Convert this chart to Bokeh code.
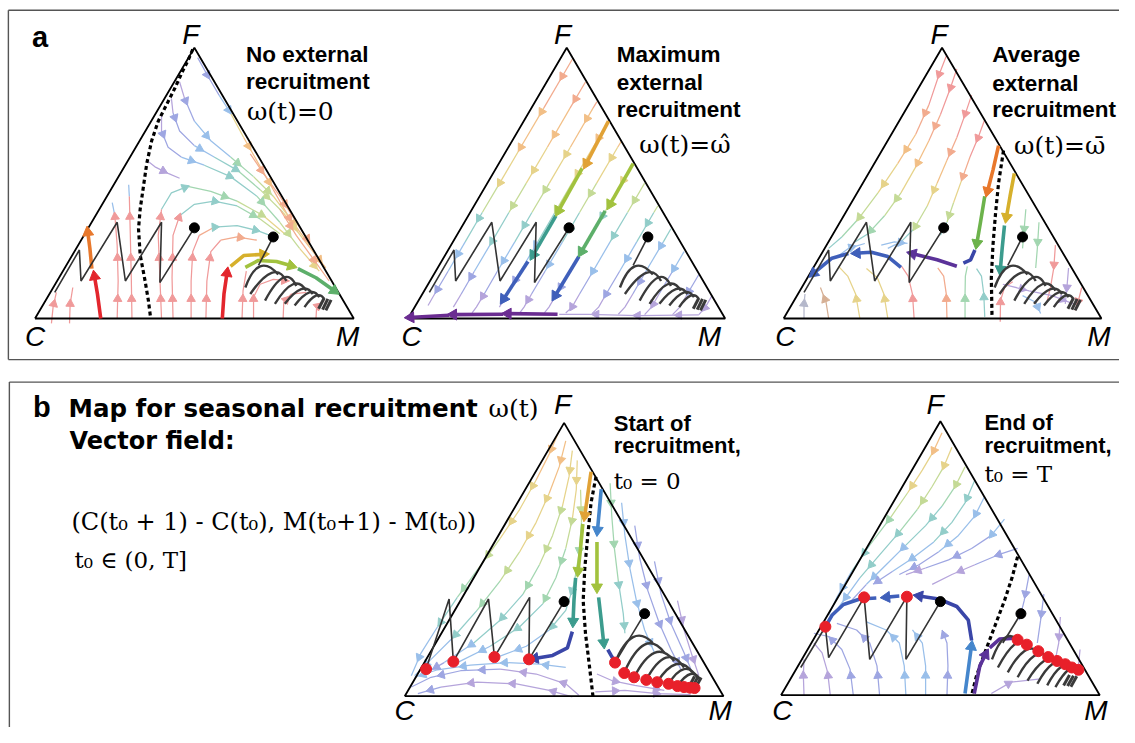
import math
from bokeh.plotting import figure
from bokeh.models import Range1d, Label, ColumnDataSource
from bokeh.embed import file_html
from bokeh.resources import INLINE

W, H = 1135, 743

# ---------------------------------------------------------------------------
# Reading frames: every triangle's values were read in 1/3-pixel units
# relative to the origin of its frame.
ORIG = {"T1": (0, 0), "T2": (380, 0), "T3": (760, 0), "T4": (400, 380), "T5": (765, 380)}

# triangle vertices C, M, F
VERTS = {
    "T1": [(105, 975), (1075, 975), (590, 145)],
    "T2": [(100, 975), (1065, 975), (583, 145)],
    "T3": [(103, 975), (1070, 975), (585, 145)],
    "T4": [(30, 993), (1000, 993), (515, 155)],
    "T5": [(80, 990), (1050, 990), (565, 150)],
}

# separatrices (dashed)
SEPARATRIX = {
    "T1": [(585, 150), (570, 185), (555, 215), (530, 270), (505, 320), (480, 370), (460, 430), (445, 500),
           (435, 570), (425, 640), (420, 700), (425, 780), (440, 860), (450, 920), (457, 975)],
    "T3": [(772, 460), (757, 560), (748, 650), (740, 750), (735, 850), (737, 965)],
    "T4": [(612, 320), (597, 400), (587, 500), (578, 600), (573, 700), (580, 800), (592, 900), (603, 995)],
    "T5": [(800, 565), (783, 630), (760, 700), (730, 780), (700, 860), (675, 930), (660, 990)],
}

THIN = {
    "r": "#f09a9a", "s": "#f2ab8e", "o": "#f2bf86", "y": "#e6d38a", "g": "#c4da96",
    "G": "#a2d6b0", "t": "#92cdc9", "b": "#99bfea", "B": "#9ea6e2", "p": "#b5a4db",
    "k": "#b5b8cb", "n": "#d6b095",
}
THICK = {
    "R": "#e3262d", "O": "#e8782c", "Q": "#e1a236", "Y": "#d6b02c", "L": "#a2c23e",
    "E": "#5daf6a", "H": "#6db34c", "T": "#3c9c8e", "U": "#3f5fba", "V": "#5b3299",
    "D": "#3a46a8", "A": "#4586cc", "P": "#6a2c91",
}

# ----------------------------- streamlines ---------------------------------
T1_STREAMS = [
    ("rr", [(155, 990), (160, 940), (170, 895)]),
    ("rr", [(210, 990), (212, 930), (220, 880)]),
    ("rrrb", [(355, 975), (358, 860), (355, 750), (348, 660), (340, 620)]),
    ("rrrb", [(400, 975), (398, 850), (395, 720), (392, 600), (390, 565)]),
    ("rrrttGGgy", [(490, 975), (485, 850), (480, 720), (490, 640), (520, 590), (570, 570), (640, 585),
                   (720, 615), (800, 660), (870, 720)]),
    ("rrrtttGg", [(525, 975), (522, 850), (525, 720), (545, 660), (590, 625), (650, 615), (720, 630),
                  (790, 670), (850, 715)]),
    ("rrrsttt", [(580, 975), (580, 860), (585, 770), (605, 720), (650, 695), (720, 690), (780, 705), (820, 720)]),
    ("rrrss", [(625, 975), (628, 860), (640, 770), (670, 735), (720, 725), (780, 735)]),
    ("rr", [(735, 975), (738, 890), (748, 830)]),
    ("rrrr", [(770, 975), (770, 910), (790, 870), (830, 855), (880, 860)]),
    ("rrr", [(860, 975), (862, 925), (885, 900), (930, 895)]),
    ("rr", [(960, 975), (962, 940), (985, 920)]),
    ("BBbyooss", [(600, 175), (630, 230), (665, 290), (700, 345), (740, 420), (785, 500), (830, 580),
                  (875, 660), (905, 710)]),
    ("pBbbGgyo", [(545, 250), (560, 300), (590, 370), (640, 430), (700, 480), (770, 540), (830, 600),
                  (890, 680), (940, 750)]),
    ("pBBbtGgyo", [(520, 300), (525, 345), (545, 400), (590, 445), (650, 480), (720, 520), (790, 580),
                   (860, 650), (920, 730), (990, 820)]),
    ("pBBbttGgy", [(490, 350), (490, 400), (510, 450), (550, 480), (620, 505), (700, 540), (780, 600),
                   (850, 680), (910, 760), (970, 830)]),
    ("ppp", [(445, 490), (470, 510), (510, 530), (545, 545)]),
    ("ssss", [(760, 470), (800, 530), (850, 600), (900, 680), (940, 740)]),
    ("sss", [(850, 640), (900, 720), (950, 790), (1000, 860)]),
]
T1_THICK = [
    ("R", [(305, 975), (295, 900), (285, 840)], True),
    ("O", [(278, 822), (272, 760), (265, 705)], True),
    ("R", [(675, 975), (680, 900), (690, 830)], True),
    ("Y", [(700, 815), (740, 782), (805, 778)], True),
    ("L", [(745, 818), (785, 797), (840, 800), (890, 815)], True),
    ("E", [(905, 822), (960, 850), (1020, 893)], True),
]

T2_STREAMS = [
    ("soygtbBp", [(600, 180), (513, 330), (443, 450), (379, 560), (326, 650), (274, 740), (222, 830), (181, 900), (161, 935)]),
    ("soygtbBp", [(640, 250), (593, 330), (524, 450), (460, 560), (407, 650), (355, 740), (302, 830), (262, 900), (238, 940)]),
    ("soygtbBpp", [(675, 310), (663, 330), (594, 450), (530, 560), (477, 650), (425, 740), (372, 830), (332, 900), (308, 940), (295, 958)]),
    ("oygtbBp", [(710, 370), (663, 450), (599, 560), (547, 650), (495, 740), (442, 830), (402, 900), (378, 940)]),
    ("oygtbBpp", [(750, 430), (738, 450), (674, 560), (622, 650), (570, 740), (517, 830), (476, 900), (453, 940), (440, 958)]),
    ("ygtbBpp", [(785, 500), (750, 560), (698, 650), (645, 740), (593, 830), (552, 900), (529, 940), (515, 958)]),
    ("gtbBpp", [(820, 560), (768, 650), (715, 740), (663, 830), (622, 900), (599, 940), (580, 958)]),
    ("gtbBpp", [(860, 630), (848, 650), (796, 740), (744, 830), (703, 900), (680, 940), (660, 960)]),
    ("tbBpp", [(900, 700), (877, 740), (824, 830), (784, 900), (760, 940), (740, 962)]),
    ("bBpp", [(940, 770), (905, 830), (864, 900), (841, 940), (820, 963)]),
    ("Bpp", [(985, 840), (950, 900), (927, 940), (905, 963)]),
    ("pp", [(1025, 905), (1005, 940), (985, 963)]),
    ("ppp", [(985, 964), (800, 966), (650, 962), (560, 962)]),
]
T2_THICK = [
    ("Q", [(710, 370), (640, 505)], True),
    ("L", [(630, 515), (555, 650)], True),
    ("T", [(550, 660), (478, 785)], True),
    ("U", [(465, 800), (388, 920)], True),
    ("L", [(785, 500), (712, 630)], True),
    ("E", [(700, 645), (625, 775)], True),
    ("U", [(620, 785), (545, 910)], True),
    ("P", [(555, 962), (398, 960)], True),
    ("P", [(390, 962), (232, 963)], True),
    ("P", [(225, 965), (102, 972)], True),
]

T3_STREAMS = [
    ("rrsoygGt", [(598, 170), (575, 230), (545, 320), (505, 410), (450, 500), (390, 590), (330, 670), (280, 725), (240, 760)]),
    ("rrsoygGt", [(630, 210), (610, 270), (580, 350), (545, 430), (505, 510), (460, 590), (410, 660), (360, 715), (320, 740)]),
    ("rrsoygtb", [(675, 290), (655, 350), (630, 420), (600, 490), (570, 560), (540, 630), (500, 700), (460, 740), (420, 760)]),
    ("rrsygt", [(715, 365), (695, 420), (670, 480), (645, 550), (620, 620), (600, 680), (580, 720)]),
    ("bb", [(260, 790), (300, 760), (350, 745)]),
    ("bb", [(400, 750), (440, 740), (480, 745)]),
    ("kk", [(165, 975), (165, 930), (168, 900)]),
    ("nn", [(240, 975), (232, 925), (215, 880)]),
    ("yyy", [(335, 975), (322, 900), (298, 845), (270, 815)]),
    ("yyy", [(420, 975), (408, 900), (388, 850), (355, 822)]),
    ("rrr", [(500, 975), (495, 900), (482, 845), (462, 815)]),
    ("sss", [(600, 975), (598, 900), (590, 845), (572, 820)]),
    ("GGG", [(655, 975), (655, 900), (656, 845), (662, 815)]),
    ("ttt", [(715, 970), (712, 900), (705, 845), (690, 822)]),
    ("rrr", [(762, 985), (763, 920), (775, 880), (800, 862)]),
    ("GG", [(840, 640), (835, 700), (830, 760)]),
    ("GG", [(880, 680), (875, 760), (870, 820)]),
    ("rrr", [(930, 750), (925, 820), (915, 880), (905, 920)]),
    ("pp", [(970, 820), (965, 880), (960, 930)]),
    ("ppp", [(770, 870), (850, 890), (920, 905), (985, 930)]),
    ("rr", [(1010, 880), (1000, 920), (990, 950)]),
    ("bb", [(830, 905), (870, 925), (885, 960)]),
]
T3_THICK = [
    ("O", [(757, 445), (740, 520), (722, 590)], True),
    ("H", [(715, 600), (702, 680), (690, 750)], True),
    ("Y", [(805, 530), (792, 600), (780, 670)], True),
    ("T", [(775, 690), (768, 760), (762, 830)], True),
    ("D", [(685, 765), (672, 795), (650, 805)], False),
    ("V", [(630, 815), (570, 795), (490, 775)], True),
    ("U", [(460, 818), (420, 785), (370, 772), (320, 775)], True),
    ("U", [(300, 776), (250, 790), (190, 840)], True),
]

T4_STREAMS = [
    ("ooyygGtbb", [(500, 180), (470, 250), (430, 330), (380, 420), (320, 510), (255, 600), (190, 690), (130, 780), (80, 860), (50, 930)]),
    ("ooyygGtbb", [(520, 210), (500, 290), (470, 370), (430, 460), (380, 550), (320, 640), (250, 730), (180, 810), (110, 880), (60, 930)]),
    ("yyggGttbB", [(540, 240), (530, 320), (510, 410), (480, 500), (440, 590), (390, 680), (320, 760), (240, 830), (150, 890), (80, 930)]),
    ("yygGGttb", [(555, 270), (552, 360), (540, 450), (520, 540), (490, 630), (450, 710), (380, 780), (290, 840), (190, 890)]),
    ("gGGttbb", [(565, 360), (568, 460), (560, 560), (545, 650), (520, 730), (470, 790), (400, 840), (320, 870)]),
    ("pppBBB", [(560, 990), (520, 955), (430, 925), (320, 910), (200, 915), (110, 935), (50, 965)]),
    ("ppppB", [(540, 995), (470, 975), (370, 955), (250, 950), (140, 965), (70, 985)]),
    ("bbbbb", [(520, 905), (440, 895), (340, 890), (230, 898), (130, 912), (60, 935)]),
    ("GGGtt", [(655, 340), (660, 440), (668, 540), (680, 640), (695, 740), (700, 800)]),
    ("bbbbb", [(690, 400), (700, 500), (715, 600), (735, 700), (760, 790), (790, 860)]),
    ("BBBBB", [(730, 470), (745, 570), (770, 670), (805, 770), (840, 850), (870, 910)]),
    ("BBBB", [(790, 580), (810, 680), (840, 770), (880, 860), (905, 920)]),
    ("ppp", [(860, 700), (880, 790), (905, 870), (925, 930)]),
    ("ppp", [(615, 925), (660, 945), (730, 960), (820, 975)]),
    ("ppp", [(610, 980), (700, 975), (800, 985), (900, 988)]),
]
T4_THICK = [
    ("Q", [(597, 305), (587, 375), (577, 445)], True),
    ("L", [(572, 465), (565, 540), (557, 615)], True),
    ("T", [(550, 630), (545, 700), (542, 770)], True),
    ("D", [(540, 795), (525, 845), (480, 868), (420, 878)], True),
    ("A", [(628, 358), (622, 425), (616, 490)], True),
    ("L", [(615, 520), (615, 590), (615, 665)], True),
    ("T", [(620, 690), (628, 760), (636, 835)], True),
    ("D", [(648, 850), (658, 868), (668, 885)], False),
]

T5_STREAMS = [
    ("oyygGtbb", [(570, 185), (545, 240), (510, 300), (465, 370), (410, 450), (350, 530), (295, 610), (250, 690), (225, 745)]),
    ("yggGttbb", [(600, 230), (575, 290), (540, 350), (495, 420), (440, 490), (380, 560), (320, 630), (270, 700), (235, 750)]),
    ("gGttbbB", [(640, 290), (610, 350), (570, 410), (520, 470), (460, 530), (400, 590), (340, 650), (290, 705)]),
    ("tttbbB", [(670, 330), (640, 400), (600, 460), (545, 520), (480, 570), (420, 610), (360, 650)]),
    ("bbbBB", [(700, 380), (670, 440), (620, 500), (560, 550), (500, 590), (440, 620)]),
    ("bBBBp", [(760, 450), (720, 500), (660, 540), (590, 575), (520, 600), (460, 620)]),
    ("BBpp", [(800, 540), (740, 560), (670, 590), (600, 620), (540, 650)]),
    ("pp", [(150, 990), (148, 930), (150, 880)]),
    ("ppp", [(230, 990), (222, 920), (205, 860), (180, 830)]),
    ("BBBB", [(300, 990), (290, 910), (265, 850), (225, 810), (180, 800)]),
    ("BBBB", [(380, 990), (372, 900), (350, 830), (310, 790), (250, 770)]),
    ("bbbb", [(460, 990), (455, 900), (440, 830), (400, 790), (340, 765)]),
    ("bbb", [(520, 990), (520, 900), (510, 830), (480, 790)]),
    ("BBB", [(585, 990), (588, 900), (585, 830), (570, 790)]),
    ("BB", [(835, 620), (820, 700), (805, 760)]),
    ("BB", [(880, 680), (870, 760), (860, 830)]),
    ("pp", [(930, 750), (925, 830), (915, 880)]),
    ("pp", [(990, 850), (985, 900), (975, 940)]),
    ("pp", [(720, 985), (780, 950), (870, 940)]),
]
T5_THICK = [
    ("A", [(640, 985), (650, 910), (660, 835)], True),
    ("D", [(660, 822), (650, 760), (615, 718), (560, 695), (495, 685)], True),
    ("U", [(440, 686), (395, 690)], True),
    ("U", [(370, 692), (320, 695), (270, 712), (235, 745), (218, 775)], False),
    ("V", [(668, 985), (685, 900), (705, 860)], True),
    ("V", [(715, 845), (745, 818), (790, 815)], False),
]

# ----------------------------- trajectories --------------------------------
TRAJ_A_LEFT = [(590, 697), (485, 865), (490, 680), (380, 860), (355, 680), (245, 860), (240, 765), (165, 895)]
TRAJ_A_LINK = [(830, 725), (785, 812)]
TRAJ_A_ARCS = [  # start, peak, end
    ((745, 880), (790, 815), (845, 840)),
    ((760, 900), (825, 835), (870, 860)),
    ((805, 920), (860, 850), (900, 875)),
    ((835, 930), (890, 870), (930, 890)),
    ((865, 930), (915, 885), (950, 900)),
    ((895, 935), (940, 895), (970, 910)),
    ((925, 940), (960, 905), (985, 915)),
]
TRAJ_A_BLOCK = [((968, 945), (985, 912)), ((980, 948), (996, 915)), ((990, 950), (1006, 918))]
DOTS_A = [(590, 697), (830, 725)]

TRAJ_T4_LEFT = [(515, 703), (408, 880), (410, 690), (303, 873), (285, 695), (178, 887), (165, 695), (95, 910)]
TRAJ_T4_LINK = [(760, 740), (670, 890)]
TRAJ_T4_ARCS = [
    ((670, 890), (725, 812), (785, 830)),
    ((698, 920), (760, 835), (820, 860)),
    ((728, 935), (790, 860), (850, 885)),
    ((765, 943), (825, 875), (880, 905)),
    ((798, 950), (855, 895), (905, 920)),
    ((833, 955), (880, 910), (920, 935)),
    ((860, 962), (900, 925), (930, 945)),
]
TRAJ_T4_BLOCK = [((895, 965), (912, 932)), ((905, 966), (922, 934)), ((915, 967), (932, 936))]
DOTS_T4 = [(515, 703), (760, 740)]
RED_T4 = [(95, 910), (178, 887), (303, 873), (408, 880), (670, 890), (698, 922), (728, 935), (765, 943),
          (798, 950), (833, 955), (860, 962), (880, 965), (898, 967), (912, 968)]

TRAJ_T5_LEFT = [(565, 703), (460, 880), (463, 688), (350, 880), (333, 690), (225, 875), (215, 780), (140, 905)]
TRAJ_T5_LINK = [(810, 740), (755, 830)]
TRAJ_T5_ARCS = [
    ((722, 880), (760, 815), (800, 820)),
    ((740, 905), (790, 835), (828, 835)),
    ((770, 920), (820, 855), (863, 855)),
    ((800, 935), (850, 870), (893, 873)),
    ((830, 945), (880, 885), (920, 885)),
    ((860, 955), (905, 895), (945, 895)),
    ((890, 960), (930, 905), (965, 905)),
    ((915, 965), (955, 912), (985, 912)),
]
TRAJ_T5_BLOCK = [((940, 960), (958, 928)), ((952, 962), (970, 930)), ((962, 964), (980, 932))]
DOTS_T5 = [(565, 703), (810, 740)]
RED_T5 = [(215, 780), (333, 690), (463, 688), (800, 820), (828, 835), (863, 855), (893, 873),
          (920, 885), (945, 895), (965, 905), (985, 912)]

# ----------------------------- texts ---------------------------------------
VERTEX_LABELS = [  # text, centre x, baseline y (px)
    ("F", 193, 45), ("C", 35, 353), ("M", 352, 353),
    ("F", 570, 45), ("C", 417, 353), ("M", 719, 353),
    ("F", 952, 45), ("C", 796, 353), ("M", 1114, 353),
    ("F", 570, 423), ("C", 410, 736), ("M", 730, 736),
    ("F", 948, 423), ("C", 793, 736), ("M", 1111, 736),
]
TITLES_A = [  # text, x, baseline
    ("No external", 249, 63), ("recruitment", 249, 91),
    ("Maximum", 625, 63), ("external", 625, 92), ("recruitment", 625, 119),
    ("Average", 1006, 63), ("external", 1006, 93), ("recruitment", 1006, 120),
]
TITLES_B = [("Start of", 622, 440), ("recruitment,", 622, 463), ("End of", 998, 439), ("recruitment,", 998, 463)]
OMEGA_TEXTS = [("ω(t)=0", 250, 122), ("ω(t)=ω\u0302", 648, 156), ("ω(t)=ω\u0304", 1028, 157), ("ω(t)", 495, 426)]
MATH_TEXTS = [
    ("(C(t\u2080 + 1) - C(t\u2080), M(t\u2080+1) - M(t\u2080))", 72, 542),
    ("t\u2080 \u2208 (0, T]", 75, 580),
    ("t\u2080 = 0", 622, 499), ("t\u2080 = T", 998, 492),
]

# ---------------------------------------------------------------------------
p = figure(width=W - 16, height=H - 16, x_range=Range1d(0, W), y_range=Range1d(0, H),
           output_backend="svg", toolbar_location=None, min_border=0)
p.axis.visible = False
p.grid.visible = False
p.outline_line_color = None
p.background_fill_color = "white"


def conv(key, pts):
    ox, oy = ORIG[key]
    return [ox + x / 3.0 for x, y in pts], [H - (oy + y / 3.0) for x, y in pts]


ml = {"xs": [], "ys": [], "c": []}
thick = {"xs": [], "ys": [], "c": []}
arr_thin = {"x": [], "y": [], "a": [], "c": []}
arr_thick = {"x": [], "y": [], "a": [], "c": []}


def ang(dx, dy):
    return math.atan2(-dx, dy)


def add_stream(key, codes, pts, spacing=42.0, first=20.0):
    xs, ys = conv(key, pts)
    n = len(xs)
    i = 0
    while i < n - 1:
        j = i
        while j + 1 < n - 1 and codes[j + 1] == codes[i]:
            j += 1
        ml["xs"].append(xs[i:j + 2])
        ml["ys"].append(ys[i:j + 2])
        ml["c"].append(THIN[codes[i]])
        i = j + 1
    seg = [math.hypot(xs[k + 1] - xs[k], ys[k + 1] - ys[k]) for k in range(n - 1)]
    total = sum(seg)
    targets = []
    d = first if total > first + 6 else total * 0.6
    while d < total - 4:
        targets.append(d)
        d += spacing
    for t in targets:
        acc = 0.0
        for k in range(n - 1):
            if acc + seg[k] >= t:
                f = (t - acc) / seg[k]
                dx = xs[k + 1] - xs[k]
                dy = ys[k + 1] - ys[k]
                arr_thin["x"].append(xs[k] + f * dx)
                arr_thin["y"].append(ys[k] + f * dy)
                arr_thin["a"].append(ang(dx, dy))
                arr_thin["c"].append(THIN[codes[k]])
                break
            acc += seg[k]


def add_thick(key, code, pts, arrow):
    xs, ys = conv(key, pts)
    thick["xs"].append(xs)
    thick["ys"].append(ys)
    thick["c"].append(THICK[code])
    if arrow:
        dx = xs[-1] - xs[-2]
        dy = ys[-1] - ys[-2]
        L = math.hypot(dx, dy)
        arr_thick["x"].append(xs[-1] - 2.0 * dx / L)
        arr_thick["y"].append(ys[-1] - 2.0 * dy / L)
        arr_thick["a"].append(ang(dx, dy))
        arr_thick["c"].append(THICK[code])


for key, streams, thicks in [("T1", T1_STREAMS, T1_THICK), ("T2", T2_STREAMS, T2_THICK),
                             ("T3", T3_STREAMS, T3_THICK), ("T4", T4_STREAMS, T4_THICK),
                             ("T5", T5_STREAMS, T5_THICK)]:
    for codes, pts in streams:
        add_stream(key, codes, pts)
    for code, pts, arrow in thicks:
        add_thick(key, code, pts, arrow)

p.multi_line(xs="xs", ys="ys", line_color="c", line_width=1.25, source=ColumnDataSource(ml))
p.scatter(x="x", y="y", angle="a", fill_color="c", line_color="c", size=8.5, marker="triangle",
          source=ColumnDataSource(arr_thin))

# triangles
for key, (c, m, f) in VERTS.items():
    xs, ys = conv(key, [c, m, f, c])
    p.line(xs, ys, line_color="black", line_width=1.8)

# separatrices
for key, pts in SEPARATRIX.items():
    xs, ys = conv(key, pts)
    p.line(xs, ys, line_color="black", line_width=3.2, line_dash="4 3")

p.multi_line(xs="xs", ys="ys", line_color="c", line_width=3.6, source=ColumnDataSource(thick))
p.scatter(x="x", y="y", angle="a", fill_color="c", line_color="c", size=11, marker="triangle",
          source=ColumnDataSource(arr_thick))

# trajectories
traj_sets = [("T1", TRAJ_A_LEFT, TRAJ_A_LINK, TRAJ_A_ARCS, TRAJ_A_BLOCK, DOTS_A, []),
             ("T2", TRAJ_A_LEFT, TRAJ_A_LINK, TRAJ_A_ARCS, TRAJ_A_BLOCK, DOTS_A, []),
             ("T3", TRAJ_A_LEFT, TRAJ_A_LINK, TRAJ_A_ARCS, TRAJ_A_BLOCK, DOTS_A, []),
             ("T4", TRAJ_T4_LEFT, TRAJ_T4_LINK, TRAJ_T4_ARCS, TRAJ_T4_BLOCK, DOTS_T4, RED_T4),
             ("T5", TRAJ_T5_LEFT, TRAJ_T5_LINK, TRAJ_T5_ARCS, TRAJ_T5_BLOCK, DOTS_T5, RED_T5)]
for key, left, link, arcs, block, dots, reds in traj_sets:
    xs, ys = conv(key, left)
    p.line(xs, ys, line_color="#333333", line_width=1.6)
    xs, ys = conv(key, link)
    p.line(xs, ys, line_color="#333333", line_width=1.6)
    q = {"x0": [], "y0": [], "x1": [], "y1": [], "cx": [], "cy": []}
    for s, pk, e in arcs:
        (sx, px_, ex), (sy, py_, ey) = conv(key, [s, pk, e])
        q["x0"].append(sx); q["y0"].append(sy)
        q["x1"].append(ex); q["y1"].append(ey)
        q["cx"].append(2 * px_ - 0.5 * (sx + ex)); q["cy"].append(2 * py_ - 0.5 * (sy + ey))
    p.quadratic(x0="x0", y0="y0", x1="x1", y1="y1", cx="cx", cy="cy", line_color="#3a3a3a",
                line_width=2.4, source=ColumnDataSource(q))
    for a, b in block:
        xs, ys = conv(key, [a, b])
        p.line(xs, ys, line_color="#3a3a3a", line_width=3)
    if reds:
        xs, ys = conv(key, reds)
        p.scatter(xs, ys, size=11, fill_color="#e8202a", line_color="#e8202a")
    xs, ys = conv(key, dots)
    p.scatter(xs, ys, size=10, fill_color="black", line_color="black")

# panel frames
for xs, ys in [([8, 1135], [10, 10]), ([8, 8], [10, 367]), ([8, 1135], [367, 367]),
               ([9, 1135], [390, 390]), ([9, 9], [390, 743])]:
    p.line(xs, [H - v for v in ys], line_color="#555555", line_width=1.4)


def lab(text, x, y, font, size, style="normal", align="left"):
    # raise by a fraction of the size so the glyph baseline lands on y
    p.add_layout(Label(x=x, y=H - y + 0.36 * size, text=text, text_font=font,
                       text_font_size=f"{size}px", text_font_style=style, text_align=align,
                       text_baseline="alphabetic", text_color="black"))


for t, x, y in VERTEX_LABELS:
    lab(t, x, y, "Liberation Sans", 28, "italic", "center")
for t, x, y in TITLES_A:
    lab(t, x, y, "Liberation Sans", 22.5, "bold")
for t, x, y in TITLES_B:
    lab(t, x, y, "Liberation Sans", 22, "bold")
for t, x, y in OMEGA_TEXTS:
    lab(t, x, y, "DejaVu Serif", 25)
for t, x, y in MATH_TEXTS:
    lab(t, x, y, "DejaVu Serif", 24 if t.startswith("(") else 23)

lab("a", 32, 48, "Liberation Sans", 29, "bold")
lab("b", 33, 426, "Liberation Sans", 29, "bold")
lab("Map for seasonal recruitment", 69, 426, "DejaVu Sans", 24.5, "bold")
lab("Vector field:", 70, 459, "DejaVu Sans", 24, "bold")

open("out.html", "w").write(file_html(p, INLINE))
